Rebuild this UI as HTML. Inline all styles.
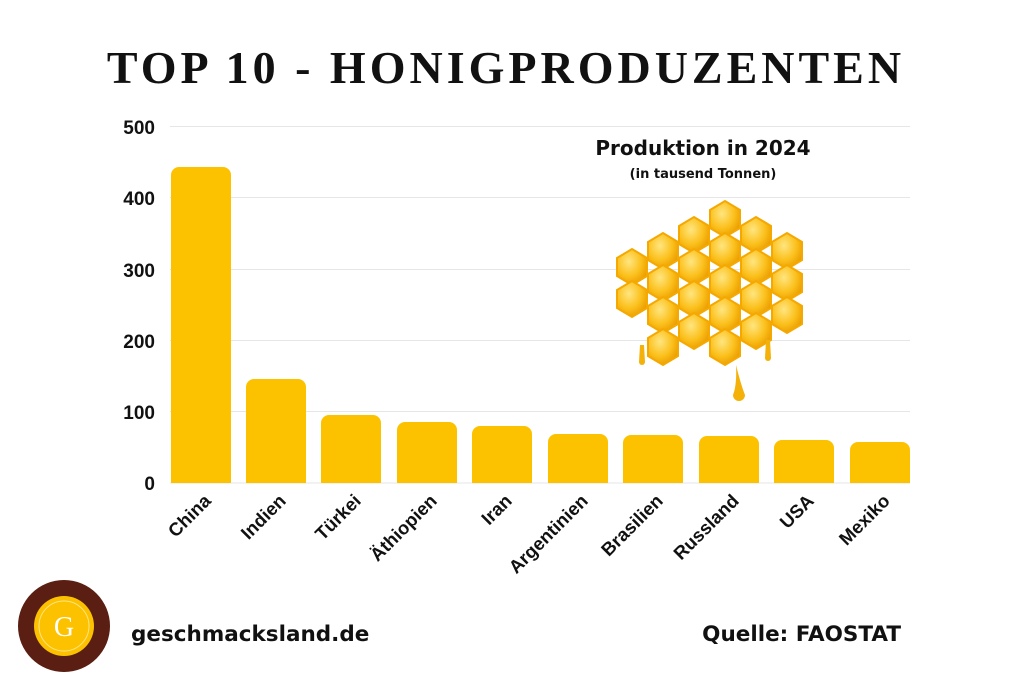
<!DOCTYPE html>
<html><head><meta charset="utf-8"><style>
body{margin:0;background:#fff}
svg{display:block}
</style></head><body>
<svg width="1024" height="683" viewBox="0 0 1024 683" xmlns="http://www.w3.org/2000/svg">
<defs>
<radialGradient id="hg" cx="0.4" cy="0.35" r="0.7">
<stop offset="0" stop-color="#ffe680"/><stop offset="0.6" stop-color="#fbbf1a"/><stop offset="1" stop-color="#e89a00"/>
</radialGradient>
</defs>
<rect width="1024" height="683" fill="#fff"/>
<text x="506" y="83" text-anchor="middle" font-family="Liberation Serif, serif" font-weight="bold" font-size="46" letter-spacing="4" fill="#111">TOP 10 - HONIGPRODUZENTEN</text>
<g stroke="#e6e6e6" stroke-width="1">
<line x1="170" x2="910" y1="126.5" y2="126.5"/>
<line x1="170" x2="910" y1="197.5" y2="197.5"/>
<line x1="170" x2="910" y1="269.5" y2="269.5"/>
<line x1="170" x2="910" y1="340.5" y2="340.5"/>
<line x1="170" x2="910" y1="411.5" y2="411.5"/>
<line x1="170" x2="910" y1="483" y2="483"/>
</g>
<g font-family="Liberation Sans, sans-serif" font-weight="bold" font-size="19" fill="#111" text-anchor="end">
<text x="155" y="134">500</text><text x="155" y="205">400</text><text x="155" y="277">300</text>
<text x="155" y="348">200</text><text x="155" y="419">100</text><text x="155" y="490">0</text>
</g>
<g fill="#fcc200">
<path d="M171 483V175a8 8 0 0 1 8-8h44a8 8 0 0 1 8 8V483z"/>
<path d="M246 483V387a8 8 0 0 1 8-8h44a8 8 0 0 1 8 8V483z"/>
<path d="M321 483V423a8 8 0 0 1 8-8h44a8 8 0 0 1 8 8V483z"/>
<path d="M397 483V430a8 8 0 0 1 8-8h44a8 8 0 0 1 8 8V483z"/>
<path d="M472 483V434a8 8 0 0 1 8-8h44a8 8 0 0 1 8 8V483z"/>
<path d="M548 483V442a8 8 0 0 1 8-8h44a8 8 0 0 1 8 8V483z"/>
<path d="M623 483V443a8 8 0 0 1 8-8h44a8 8 0 0 1 8 8V483z"/>
<path d="M699 483V444a8 8 0 0 1 8-8h44a8 8 0 0 1 8 8V483z"/>
<path d="M774 483V448a8 8 0 0 1 8-8h44a8 8 0 0 1 8 8V483z"/>
<path d="M850 483V450a8 8 0 0 1 8-8h44a8 8 0 0 1 8 8V483z"/>
</g>
<g font-family="Liberation Sans, sans-serif" font-weight="bold" font-size="18.5" fill="#111" text-anchor="end">
<text transform="translate(212,502) rotate(-45)">China</text>
<text transform="translate(287,502) rotate(-45)">Indien</text>
<text transform="translate(362,502) rotate(-45)">Türkei</text>
<text transform="translate(438,502) rotate(-45)">Äthiopien</text>
<text transform="translate(513,502) rotate(-45)">Iran</text>
<text transform="translate(589,502) rotate(-45)">Argentinien</text>
<text transform="translate(664,502) rotate(-45)">Brasilien</text>
<text transform="translate(740,502) rotate(-45)">Russland</text>
<text transform="translate(815,502) rotate(-45)">USA</text>
<text transform="translate(891,502) rotate(-45)">Mexiko</text>
</g>
<text x="703" y="155" text-anchor="middle" font-family="DejaVu Sans, sans-serif" font-weight="bold" font-size="20" fill="#111">Produktion in 2024</text>
<text x="703" y="178" text-anchor="middle" font-family="DejaVu Sans, sans-serif" font-weight="bold" font-size="13" fill="#111">(in tausend Tonnen)</text>
<g stroke="#f5a800" stroke-width="2" fill="url(#hg)">
<polygon points="617,258 632,249 647,258 647,276 632,285 617,276"/>
<polygon points="617,290 632,281 647,290 647,308 632,317 617,308"/>
<polygon points="648,242 663,233 678,242 678,260 663,269 648,260"/>
<polygon points="648,274 663,265 678,274 678,292 663,301 648,292"/>
<polygon points="648,306 663,297 678,306 678,324 663,333 648,324"/>
<polygon points="648,338 663,329 678,338 678,356 663,365 648,356"/>
<polygon points="679,226 694,217 709,226 709,244 694,253 679,244"/>
<polygon points="679,258 694,249 709,258 709,276 694,285 679,276"/>
<polygon points="679,290 694,281 709,290 709,308 694,317 679,308"/>
<polygon points="679,322 694,313 709,322 709,340 694,349 679,340"/>
<polygon points="710,210 725,201 740,210 740,228 725,237 710,228"/>
<polygon points="710,242 725,233 740,242 740,260 725,269 710,260"/>
<polygon points="710,274 725,265 740,274 740,292 725,301 710,292"/>
<polygon points="710,306 725,297 740,306 740,324 725,333 710,324"/>
<polygon points="710,338 725,329 740,338 740,356 725,365 710,356"/>
<polygon points="741,226 756,217 771,226 771,244 756,253 741,244"/>
<polygon points="741,258 756,249 771,258 771,276 756,285 741,276"/>
<polygon points="741,290 756,281 771,290 771,308 756,317 741,308"/>
<polygon points="741,322 756,313 771,322 771,340 756,349 741,340"/>
<polygon points="772,242 787,233 802,242 802,260 787,269 772,260"/>
<polygon points="772,274 787,265 802,274 802,292 787,301 772,292"/>
<polygon points="772,306 787,297 802,306 802,324 787,333 772,324"/>
</g>
<g fill="#f4b10a">
<path d="M736 365 Q741 385 745 395 a6 6 0 1 1 -12 0 Q737 385 736 365z"/>
<path d="M640 345 L644 345 L645 362 a3 3 0 1 1 -6 0z"/>
<path d="M766 340 L770 340 L771 358 a3 3 0 1 1 -6 0z"/>
</g>
<circle cx="64" cy="626" r="46" fill="#5a1e12"/>
<circle cx="64" cy="626" r="30" fill="#fcc200"/>
<circle cx="64" cy="626" r="25" fill="none" stroke="#ffe38a" stroke-width="1"/>
<text x="64" y="636" text-anchor="middle" font-family="Liberation Serif, serif" font-size="28" fill="#fff">G</text>
<text x="131" y="641" font-family="DejaVu Sans, sans-serif" font-weight="bold" font-size="21.5" fill="#111">geschmacksland.de</text>
<text x="901" y="641" text-anchor="end" font-family="DejaVu Sans, sans-serif" font-weight="bold" font-size="21.5" fill="#111">Quelle: FAOSTAT</text>
</svg>
</body></html>
